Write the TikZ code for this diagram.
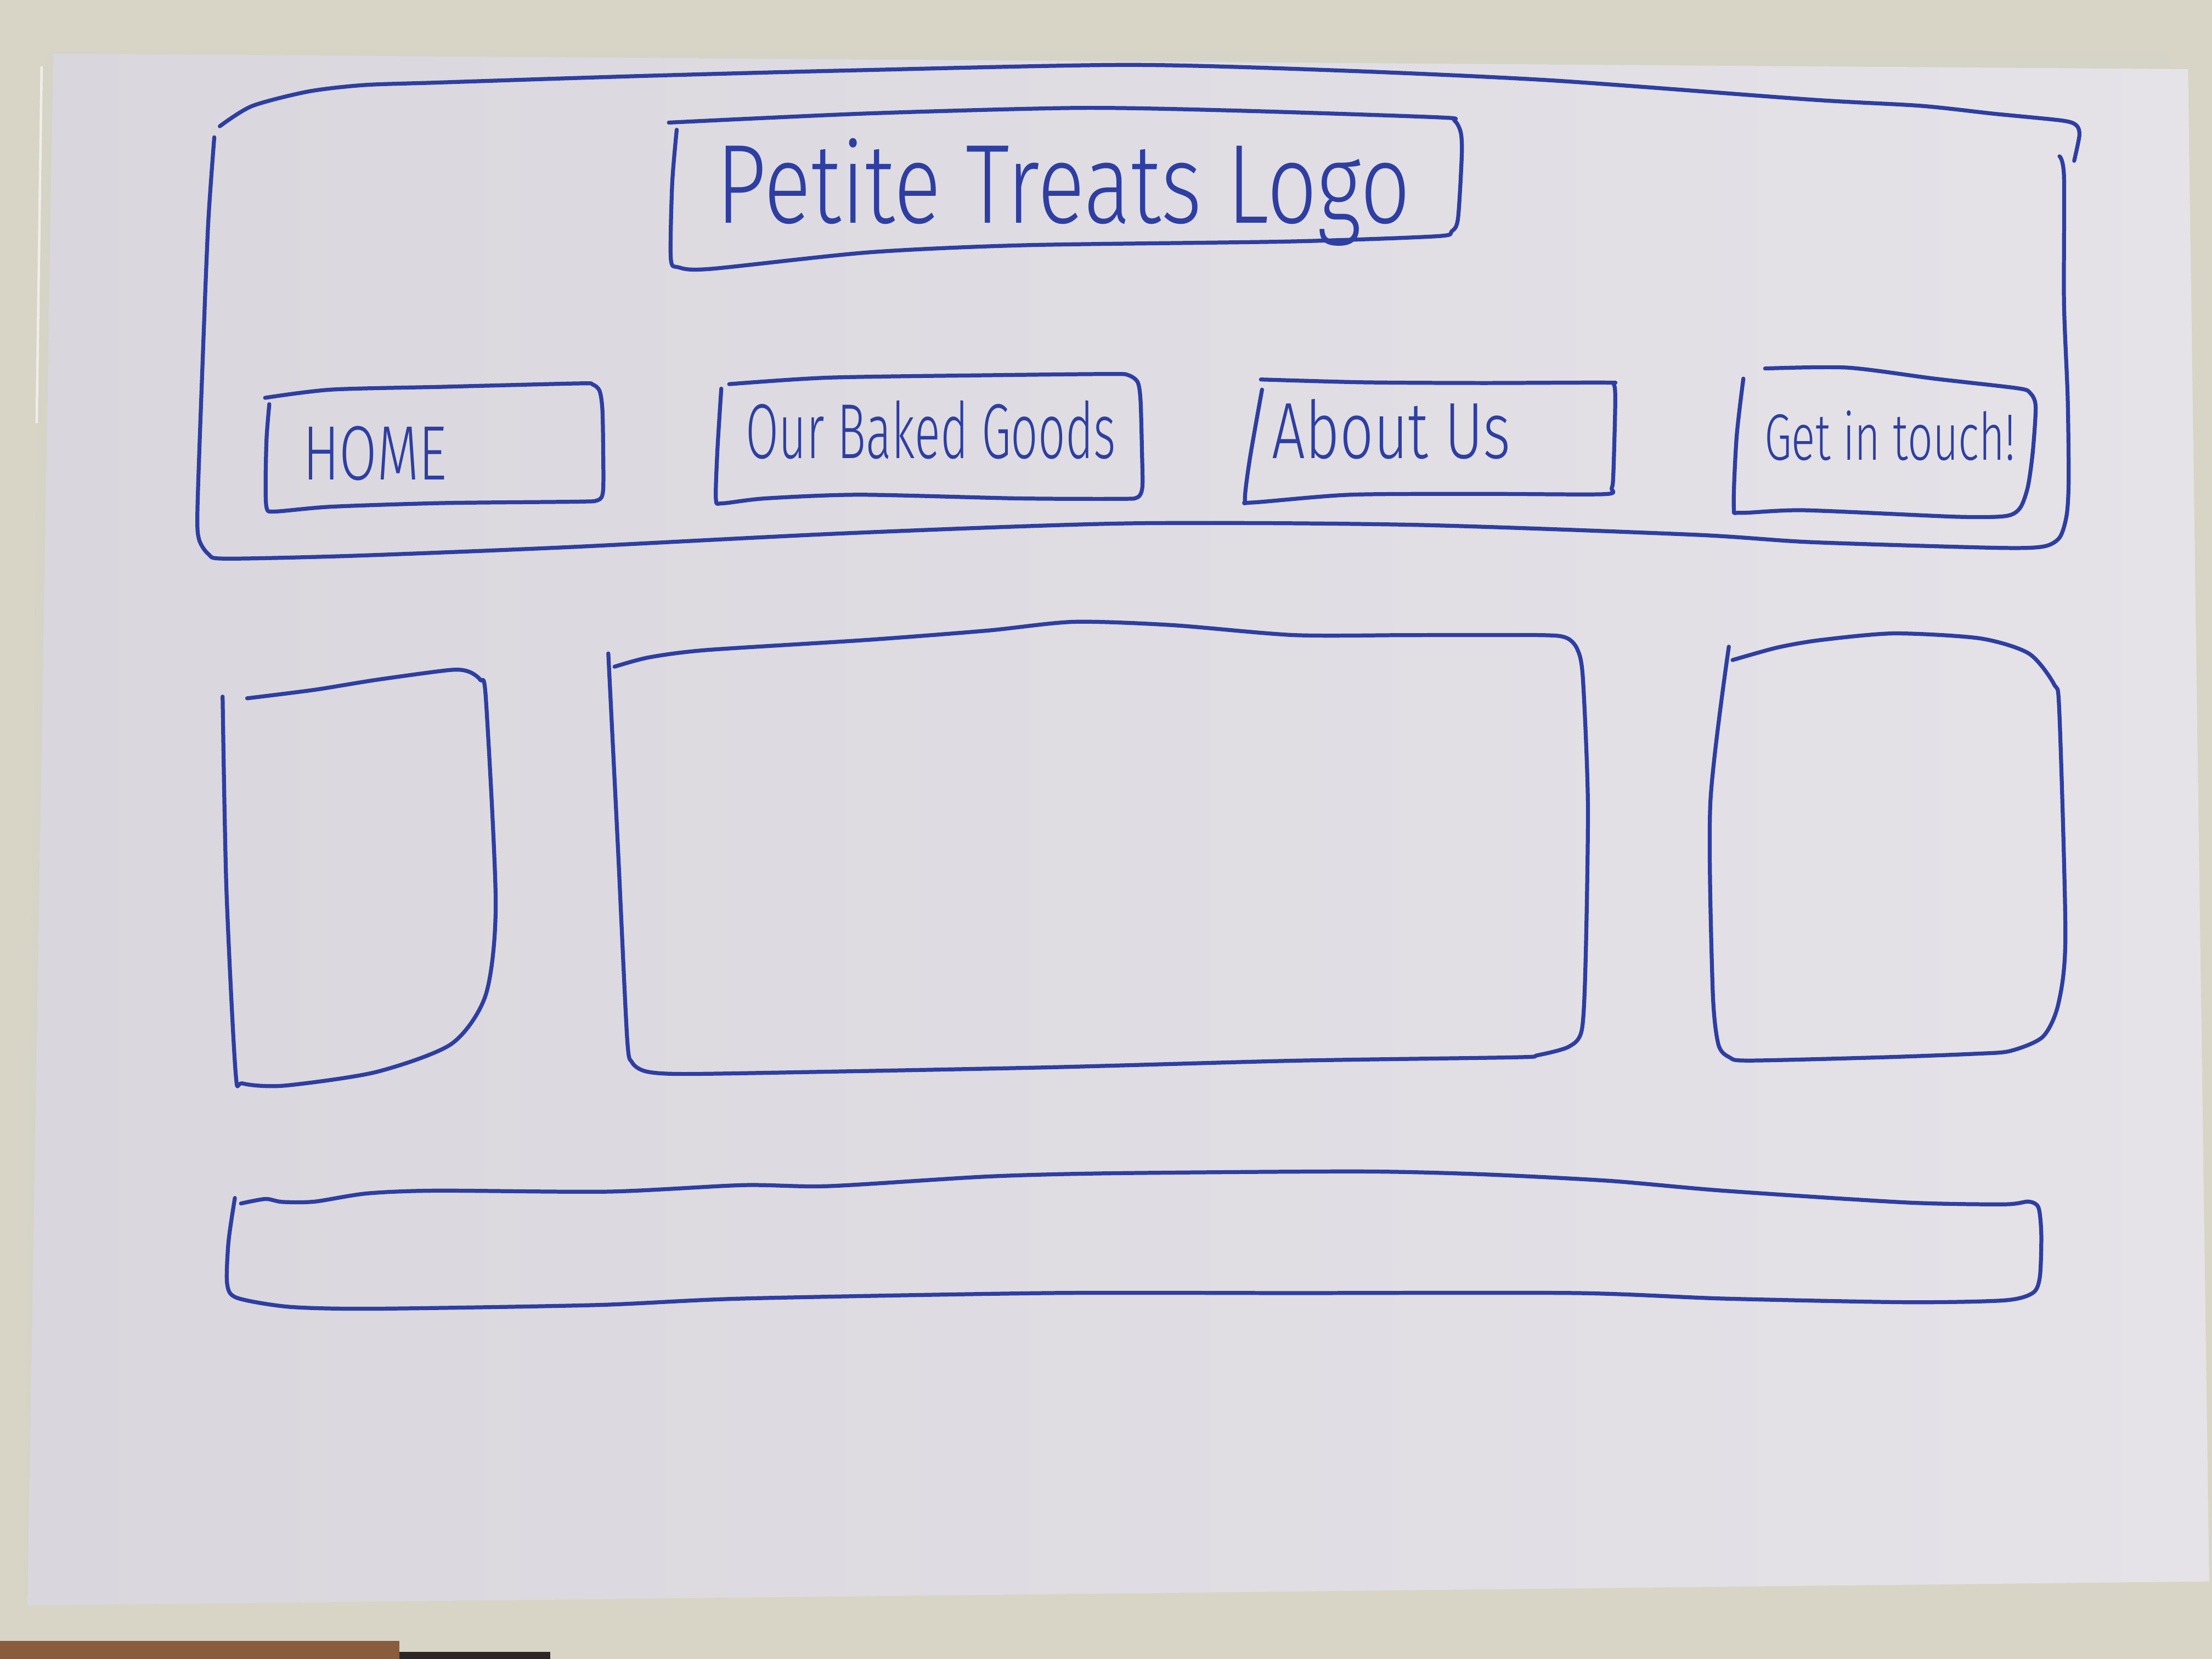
\documentclass[tikz,border=0pt]{standalone}
\usepackage{fontspec}
\newfontfamily\hand{Fira Sans}[UprightFont={* Light}]
\usepackage{graphicx}

\definecolor{ink}{RGB}{46,62,162}
\definecolor{desk}{RGB}{216,213,198}
\definecolor{undersheet}{RGB}{214,211,199}
\definecolor{paperA}{RGB}{217,215,221}
\definecolor{paperB}{RGB}{229,227,232}
\definecolor{floorbrown}{RGB}{138,92,62}
\definecolor{floordark}{RGB}{44,38,38}

\tikzset{
  pen/.style={draw=ink, line width=0.8pt, line cap=round, line join=round},
  sketch/.style={smooth, tension=0.45},
  label/.style={text=ink, inner sep=0pt, anchor=base west},
}

\begin{document}
\begin{tikzpicture}[x=0.01cm, y=-0.01cm]
\useasboundingbox (0,0) rectangle (1568,1176);

% desk, floor and the sheet lying under the drawing
\fill[desk] (0,0) rectangle (1568,1176);
\fill[floorbrown] (0,1163) rectangle (283,1176);
\fill[floordark] (283,1171) rectangle (390,1176);
\fill[undersheet] (29.5,46) -- (36,36) -- (1538,36) -- (1540,600) -- (17,1132) -- cycle;
\draw[white!60!desk, line width=0.5pt] (29.5,47) -- (26,300);

% the drawing sheet
\shade[left color=paperA, right color=paperB]
  (37.7,38) -- (1551,49) -- (1566,1121) -- (1568,1121) -- (19.4,1138) -- cycle;

% header frame
\draw[pen] plot[sketch] coordinates {(155.8,89.5) (178.6,75.2) (218.4,64.9) (258,60.3) (311,58.5)
  (450,54) (600,50) (800,46) (950,50) (1100,57) (1283.5,70.6) (1361.3,75) (1413.2,80.6)
  (1462,85.5) (1472,89) (1474,96) (1470.3,114)};
\draw[pen] plot[sketch] coordinates {(151.9,97.3) (147.5,160) (143.5,260) (140,360) (141,382)
  (148,393) (160,396) (250,394) (400,388) (600,378) (800,371) (1000,372) (1200,379) (1283.5,384.3)
  (1413.2,388.3) (1448,387.5) (1460,381) (1465,365) (1466.4,340) (1465.7,281.6) (1463.1,214.6)
  (1463.1,125.3) (1459.9,110.8)};

% logo box
\draw[pen] plot[sketch] coordinates {(474.1,86.9) (615.6,80.4) (764.5,76.5) (876.1,78.4)
  (1020,83.2) (1031,85.5) (1035.5,94) (1036.2,110) (1033.5,155) (1029,164) (1018,167.5)
  (913.3,171.2) (727.2,173.8) (615.6,178.9) (503.9,190.6) (481,189.5) (475.5,183)
  (476.5,130) (479.7,92)};
\node[label] (logo) at (507,158) {\resizebox{4.92cm}{0.6cm}{\hand Petite Treats Logo}};

% navigation buttons
\draw[pen] plot[sketch] coordinates {(187.9,282) (234.6,276.2) (314,274.2) (410,271.8)
  (420,272.5) (425,277) (427,290) (427.6,320) (427.5,348) (424,354.5) (410,355.6) (314,356.6)
  (234.6,359.2) (195,362.6) (189,360) (188.3,340) (189,310) (190.9,286.5)};
\node[label] (home) at (214,340) {\resizebox{1.02cm}{0.38cm}{\hand HOME}};

\draw[pen] plot[sketch] coordinates {(516.9,272.3) (587.2,267.7) (700,266) (788.2,265.1)
  (800,266) (806.5,271) (808.5,284) (809.5,320) (809.8,345) (806.5,352.5) (795,353.6)
  (721.2,353.3) (609.6,350.7) (542.6,353.3) (512,356.8) (507.5,354) (508.5,320) (511.3,275.5)};
\node[label] (goods) at (528,325) {\resizebox{2.62cm}{0.41cm}{\hand Our Baked Goods}};

\draw[pen] plot[sketch] coordinates {(893.8,269) (965.8,271) (1050,271.5) (1138,271.2)
  (1144,272.5) (1145,285) (1143.7,334.5) (1142.5,346) (1137,350.3) (1052.6,350.1) (957.1,350.7)
  (888,356.2) (882.5,354) (886,325) (894.6,276.2)};
\node[label] (about) at (901,325) {\resizebox{1.69cm}{0.42cm}{\hand About Us}};

\draw[pen] plot[sketch] coordinates {(1251.2,261.2) (1309.6,260.6) (1371.1,268.4) (1430,275.2)
  (1439,278.5) (1443,288) (1441,320) (1437.5,345) (1432,360) (1421.8,365.8) (1386.5,366.3)
  (1278.9,361.7) (1234,363.5) (1229,359) (1231,310) (1235.8,268.4)};
\node[label] (touch) at (1250,326) {\resizebox{1.78cm}{0.35cm}{\hand Get in touch!}};

% left column
\draw[pen] plot[sketch] coordinates {(175.2,495) (222.9,489) (266.3,482) (318.4,475)
  (332,476) (340.5,482) (344.4,495) (351.4,640) (344.4,705) (320,740) (266.3,760)
  (201.2,769.6) (172,768) (167,760) (160.5,630) (157.8,493.8)};

% main content area
\draw[pen] plot[sketch] coordinates {(435.6,472.6) (460,466) (500.7,460.8) (613.5,453.7)
  (700,447) (761,440.8) (830.5,443.1) (917.3,450.2) (1000,450.2) (1091,450.2) (1110,452)
  (1118,460) (1122,480) (1125.6,569.2) (1124,680) (1121.3,730) (1112,742) (1090,748)
  (1073.5,749.5) (917.3,751.9) (743.7,756.6) (570,760) (483.3,761.3) (458,759.5) (448,753)
  (444.5,735) (438,600) (431.2,463.2)};

% right column
\draw[pen] plot[sketch] coordinates {(1228.1,467.9) (1260,459) (1290.6,453.7) (1342.6,449)
  (1403.4,452.5) (1438.1,463.2) (1456,485) (1459.8,505) (1464.1,663.5) (1459,712)
  (1448,735) (1425,745) (1400,747) (1333.9,749.5) (1240,751.8) (1226,749.5) (1218,740)
  (1214,700) (1212.4,569.2) (1225.5,458.4)};

% footer bar
\draw[pen] plot[sketch] coordinates {(170.8,853.1) (188.2,849.9) (200,852) (222.9,851.8)
  (260,846) (309.7,844) (431.2,844.7) (526.7,840.1) (587.5,840.8) (700,834) (787.1,831.7)
  (960.7,830.4) (1047.5,832.3) (1140,837) (1221,844) (1351.3,852.4) (1420.7,853.7)
  (1438,851.8) (1445,856) (1447,875) (1446,905) (1441,916.5) (1420.7,921.8) (1351,923.1)
  (1221,920.5) (1117,916.6) (917.3,916.6) (743.7,916.6) (526.7,920.5) (422.5,925.1)
  (266.3,927.7) (205.5,926.4) (168,920) (161,910) (162,880) (166.5,849.2)};

\end{tikzpicture}
\end{document}
